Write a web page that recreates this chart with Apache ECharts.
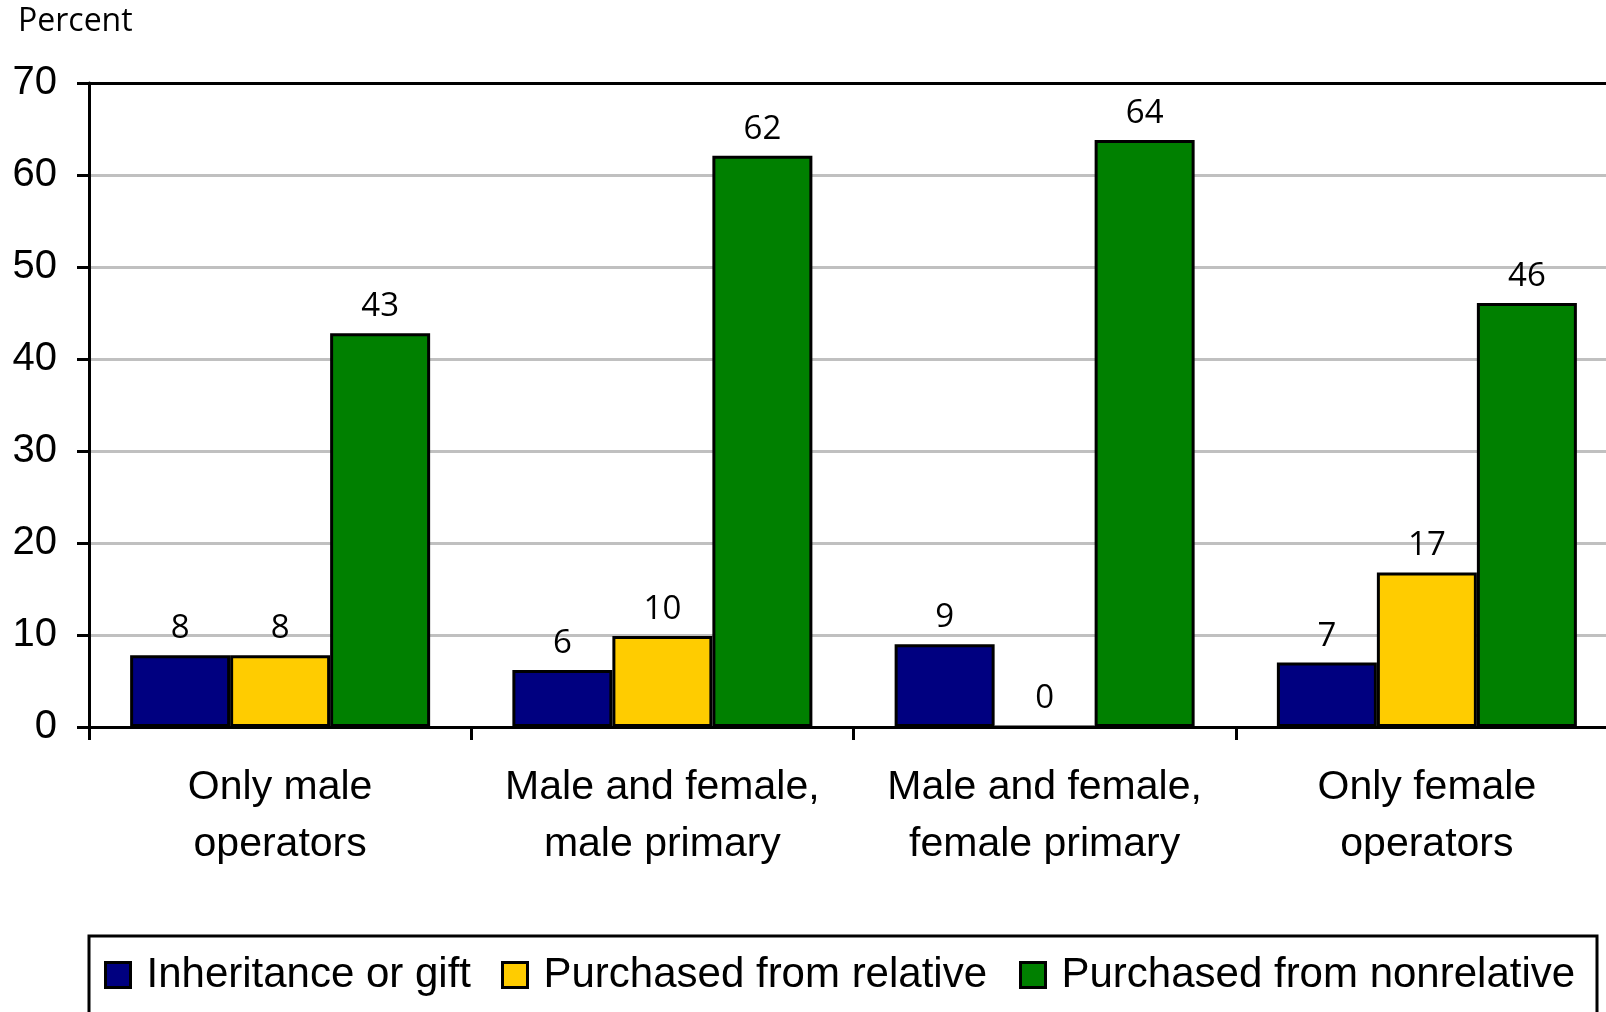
<!DOCTYPE html>
<html>
<head>
<meta charset="utf-8">
<script src="https://cdn.jsdelivr.net/npm/echarts@6/dist/echarts.min.js"></script>
<style>html,body{margin:0;padding:0;background:#fff;overflow:hidden;width:1606px;height:1012px;}#c{width:1620px;height:1012px;}</style>
</head>
<body>
<div id="c"></div>
<script>
const categories = ['Only male\noperators', 'Male and female,\nmale primary', 'Male and female,\nfemale primary', 'Only female\noperators'];
const seriesNames = ['Inheritance or gift', 'Purchased from relative', 'Purchased from nonrelative'];
const inheritance = [7.8, 6.2, 9.0, 7.0];
const purchasedRelative = [7.8, 9.9, 0, 16.8];
const purchasedNonrelative = [42.8, 62.1, 63.8, 46.1];
const yTicks = [0, 10, 20, 30, 40, 50, 60, 70];
const colors = ['#000080', '#FFCC00', '#008000'];

const chart = echarts.init(document.getElementById('c'));
const labelFont = '"Liberation Sans", Arial, sans-serif';
const calFont = '"Open Sans", sans-serif';

function mkSeries(name, data, color) {
  return {
    name: name, type: 'bar', data: data, barWidth: 100, barGap: '0%',
    itemStyle: { color: color, borderColor: '#000', borderWidth: 3 },
    label: {
      show: true, position: 'top', distance: 10,
      fontFamily: calFont, fontSize: 33, color: '#000',
      formatter: p => Math.round(p.value)
    }
  };
}
function mkLegend(name, left) {
  return {
    data: [name], left: left, top: 951, padding: 0,
    icon: 'rect', itemWidth: 25, itemHeight: 25,
    itemStyle: { borderColor: '#000', borderWidth: 3 },
    textStyle: { fontFamily: labelFont, fontSize: 42, color: '#000', lineHeight: 48, padding: [0, 0, 0, 11] },
    selectedMode: false
  };
}

chart.setOption({
  animation: false,
  backgroundColor: '#fff',
  title: {
    text: 'Percent', left: 13, top: 1,
    textStyle: { fontFamily: calFont, fontSize: 32, fontWeight: 'normal', color: '#000' }
  },
  grid: { left: 89, right: 2, top: 83, bottom: 285 },
  xAxis: {
    type: 'category', data: categories,
    axisLine: { lineStyle: { color: '#000', width: 3 } },
    axisTick: { show: true, length: 13, lineStyle: { color: '#000', width: 3 } },
    axisLabel: { fontFamily: labelFont, fontSize: 41, color: '#000', lineHeight: 57, margin: 32, interval: 0 }
  },
  yAxis: {
    type: 'value', min: yTicks[0], max: yTicks[yTicks.length - 1], interval: 10,
    axisLine: { show: true, lineStyle: { color: '#000', width: 3 } },
    axisTick: { show: true, length: 12, lineStyle: { color: '#000', width: 3 } },
    axisLabel: { fontFamily: labelFont, fontSize: 40, color: '#000', margin: 32 },
    splitLine: { show: true, lineStyle: { color: ['#c0c0c0','#c0c0c0','#c0c0c0','#c0c0c0','#c0c0c0','#c0c0c0','#c0c0c0','#000'], width: 3 } }
  },
  legend: [mkLegend(seriesNames[0], 104), mkLegend(seriesNames[1], 501), mkLegend(seriesNames[2], 1019)],
  graphic: [{
    type: 'rect', shape: { x: 89, y: 936, width: 1508, height: 120 },
    style: { fill: 'none', stroke: '#000', lineWidth: 3 }
  }],
  series: [
    mkSeries(seriesNames[0], inheritance, colors[0]),
    mkSeries(seriesNames[1], purchasedRelative, colors[1]),
    mkSeries(seriesNames[2], purchasedNonrelative, colors[2])
  ]
});
</script>
</body>
</html>
